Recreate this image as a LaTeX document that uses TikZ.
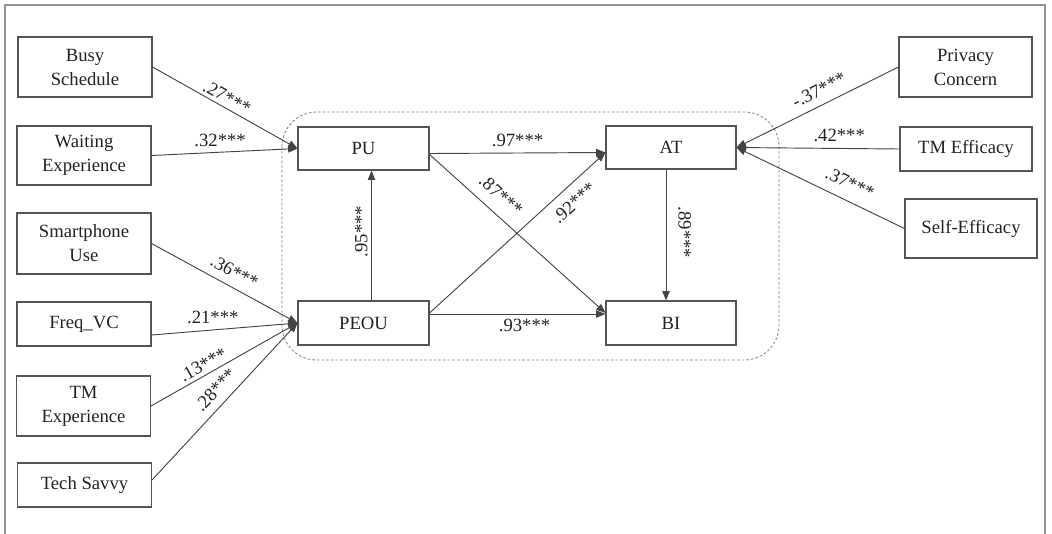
\documentclass[tikz,border=0pt]{standalone}
\usepackage{fontspec}
\setmainfont{Liberation Serif}
\usetikzlibrary{arrows.meta,calc}
\definecolor{ln}{HTML}{444444}
\definecolor{bx}{HTML}{555555}
\definecolor{tx}{HTML}{222222}
\begin{document}
\begin{tikzpicture}[x=0.75pt,y=-0.75pt,
  box/.style={draw=bx, line width=0.8pt, align=center, text=tx, font=\fontsize{14}{18}\selectfont, inner sep=0pt},
  conn/.style={draw=ln, line width=0.7pt, -{Triangle[length=7pt,width=5.5pt]}},
  connr/.style={draw=ln, line width=0.7pt, {Triangle[length=7pt,width=5.5pt]}-},
  lab/.style={font=\fontsize{14}{16}\selectfont, text=tx, inner sep=1pt}]
\useasboundingbox (0,0) rectangle (1052,533);
\draw[draw=gray!85, line width=1pt] (5,540) -- (5,5) -- (1045,5) -- (1045,540);
\draw[draw=gray, line width=0.6pt, dash pattern=on 2pt off 1.5pt, rounded corners=26pt] (282,112) rectangle (779,360);

\node[box, minimum width=100.5pt, minimum height=45pt] (busy) at (85,67) {Busy\\Schedule};
\node[box, minimum width=100.5pt, minimum height=44.25pt] (wait) at (84,155.5) {Waiting\\Experience};
\node[box, minimum width=100.5pt, minimum height=45.75pt] (smart) at (84,243.5) {Smartphone\\Use};
\node[box, minimum width=100.5pt, minimum height=33pt] (freq) at (84,324) {Freq\_VC};
\node[box, minimum width=100.5pt, minimum height=45pt] (tmexp) at (83.5,406) {TM\\Experience};
\node[box, minimum width=100.5pt, minimum height=33pt] (tech) at (84.5,485) {Tech Savvy};

\node[box, minimum width=98.25pt, minimum height=32.25pt] (pu) at (363.5,148.5) {PU};
\node[box, minimum width=98.25pt, minimum height=33pt] (peou) at (363.5,323) {PEOU};
\node[box, minimum width=97.5pt, minimum height=32.25pt] (at) at (671,147.5) {AT};
\node[box, minimum width=97.5pt, minimum height=33pt] (bi) at (671,323) {BI};

\node[box, minimum width=99.75pt, minimum height=45pt] (priv) at (965.5,67) {Privacy\\Concern};
\node[box, minimum width=99pt, minimum height=33pt] (tmeff) at (966,149) {TM Efficacy};
\node[box, minimum width=99pt, minimum height=44.25pt] (self) at (971,228.5) {Self-Efficacy};

\draw[conn] (busy.east) -- node[lab,sloped,above=1.5pt,pos=.48]{.27***} (pu.west);
\draw[conn] (wait.east) -- node[lab,above=3pt,pos=.47]{.32***} (pu.west);
\draw[conn] (smart.east) -- node[lab,sloped,above=5pt,pos=.52]{.36***} (peou.west);
\draw[conn] ($(freq.east)+(0,11)$) -- node[lab,above=3pt,pos=.42]{.21***} (peou.west);
\draw[conn] (tmexp.east) -- node[lab,sloped,above=1.5pt,pos=.39]{.13***} (peou.west);
\draw[conn] ($(tech.east)+(0,-5)$) -- node[lab,sloped,above=5pt,pos=.51]{.28***} (peou.west);

\draw[connr] (at.east) -- node[lab,sloped,above=5pt,pos=.55]{-.37***} (priv.west);
\draw[connr] (at.east) -- node[lab,above=4pt,pos=.63]{.42***} (tmeff.west);
\draw[connr] (at.east) -- node[lab,sloped,above=7pt,pos=.63]{.37***} (self.west);

\draw[conn] ($(pu.east)+(0,5)$) -- node[lab,above=3pt]{.97***} ($(at.west)+(0,5)$);
\draw[conn] ($(pu.east)+(0,6)$) -- node[lab,sloped,above=7pt,pos=.34]{.87***} ($(bi.west)+(0,-10)$);
\draw[conn] ($(peou.east)+(0,-10)$) -- node[lab,sloped,below=6pt,pos=.76]{.92***} ($(at.west)+(0,5)$);
\draw[conn] ($(peou.east)+(0,-9)$) -- node[lab,below=2.5pt,pos=.54]{.93***} ($(bi.west)+(0,-9)$);
\draw[conn] ($(peou.north)+(8,0)$) -- node[lab,sloped,above=1.5pt,pos=.53]{.95***} ($(pu.south)+(8,0)$);
\draw[conn] ($(at.south)+(-5,0)$) -- node[lab,sloped,above=8pt,pos=.48]{.89***} ($(bi.north)+(-5,0)$);
\end{tikzpicture}
\end{document}
